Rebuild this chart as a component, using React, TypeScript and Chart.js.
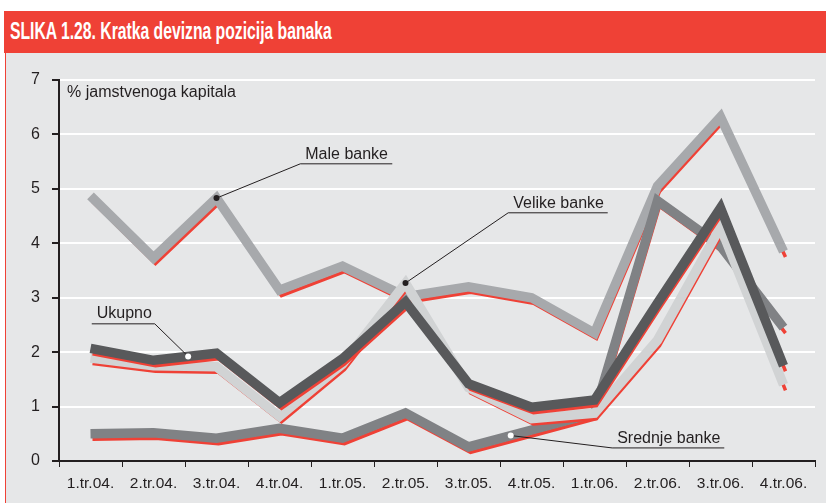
import { useEffect, useRef } from 'react';
import { Chart, registerables } from 'chart.js';

Chart.register(...registerables);

const categories = ['1.tr.04.', '2.tr.04.', '3.tr.04.', '4.tr.04.', '1.tr.05.', '2.tr.05.', '3.tr.05.', '4.tr.05.', '1.tr.06.', '2.tr.06.', '3.tr.06.', '4.tr.06.'];
const maleBanke = [4.87, 3.73, 4.83, 3.14, 3.58, 3.02, 3.2, 3.0, 2.35, 5.05, 6.32, 3.85];
const srednjeBanke = [0.5, 0.52, 0.42, 0.6, 0.42, 0.88, 0.26, 0.57, 0.88, 4.78, 3.95, 2.45];
const velikeBanke = [1.89, 1.75, 1.73, 0.82, 1.78, 3.27, 1.35, 0.78, 0.88, 2.22, 4.3, 1.4];
const ukupno = [2.07, 1.85, 1.98, 1.07, 1.88, 2.92, 1.42, 0.99, 1.12, 2.9, 4.65, 1.75];
const yMin = 0;
const yMax = 7;

const RED = '#ef4136';
const INK = '#231f20';

const callouts = [
  { text: 'Male banke', dataset: 'Male banke', at: 2, ux0: 3.33, ux1: 4.79, uy: 5.46, from: 'left', dot: INK, base: 5 },
  { text: 'Velike banke', dataset: 'Velike banke', at: 5, ux0: 6.63, ux1: 8.21, uy: 4.56, from: 'left', dot: INK, base: 5 },
  { text: 'Ukupno', dataset: 'Ukupno', at: 1.55, ux0: 0.02, ux1: 1.02, uy: 2.52, from: 'right', dot: '#ffffff', base: 6 },
  { text: 'Srednje banke', dataset: 'Srednje banke', at: 6.67, ux0: 8.28, ux1: 10.06, uy: 0.24, from: 'left', dot: '#ffffff', base: 5 },
];

const shadowPlugin = {
  id: 'redShadow',
  beforeDatasetDraw(chart: any, args: any) {
    const ds = chart.data.datasets[args.index];
    if (ds.isShadow) {
      chart.ctx.save();
      chart.ctx.translate(2, 5.5);
    }
  },
  afterDatasetDraw(chart: any, args: any) {
    const ds = chart.data.datasets[args.index];
    if (ds.isShadow) chart.ctx.restore();
  },
};

const calloutPlugin = {
  id: 'callouts',
  afterDatasetsDraw(chart: any) {
    const ctx = chart.ctx;
    const xs = chart.scales.x;
    const ys = chart.scales.y;
    const area = chart.chartArea;
    ctx.save();
    ctx.fillStyle = INK;
    ctx.font = '16px "Liberation Sans", Arial, sans-serif';
    ctx.textBaseline = 'middle';
    ctx.textAlign = 'left';
    ctx.fillText('% jamstvenoga kapitala', area.left + 8, area.top + 13);

    callouts.forEach((c) => {
      const dsIndex = chart.data.datasets.findIndex((d: any) => d.label === c.dataset && !d.isShadow);
      const pts = chart.getDatasetMeta(dsIndex).data;
      const k = Math.floor(c.at);
      const f = c.at - k;
      const p0 = pts[k];
      const p1 = pts[Math.min(k + 1, pts.length - 1)];
      const dx = p0.x + (p1.x - p0.x) * f;
      const dy = p0.y + (p1.y - p0.y) * f;
      const x0 = xs.getPixelForValue(c.ux0);
      const x1 = xs.getPixelForValue(c.ux1);
      const uy = ys.getPixelForValue(c.uy);
      ctx.strokeStyle = INK;
      ctx.lineWidth = 1;
      ctx.beginPath();
      ctx.moveTo(x0, uy);
      ctx.lineTo(x1, uy);
      const lx = c.from === 'left' ? x0 : x1;
      ctx.moveTo(lx, uy);
      ctx.lineTo(dx, dy);
      ctx.stroke();
      ctx.fillStyle = INK;
      ctx.font = '16px "Liberation Sans", Arial, sans-serif';
      ctx.textBaseline = 'alphabetic';
      ctx.fillText(c.text, x0 + 5, uy - c.base);
      ctx.beginPath();
      ctx.arc(dx, dy, 3, 0, Math.PI * 2);
      ctx.fillStyle = c.dot;
      ctx.fill();
    });
    ctx.restore();
  },
};

function line(label: string, data: number[], color: string, order: number, shadow: boolean) {
  return {
    label,
    data,
    isShadow: shadow,
    borderColor: shadow ? RED : color,
    borderWidth: shadow ? 3.5 : 9.5,
    borderCapStyle: 'butt',
    borderJoinStyle: 'miter',
    pointRadius: 0,
    pointHoverRadius: 0,
    fill: false,
    tension: 0,
    order,
  };
}

export default function App() {
  const ref = useRef<HTMLCanvasElement | null>(null);

  useEffect(() => {
    if (!ref.current) return;
    const chart = new Chart(ref.current, {
      type: 'line',
      data: {
        labels: categories,
        datasets: [
          line('Ukupno', ukupno, '#58595b', 0, false),
          line('Ukupno', ukupno, '#58595b', 1, true),
          line('Velike banke', velikeBanke, '#d1d3d4', 2, false),
          line('Velike banke', velikeBanke, '#d1d3d4', 3, true),
          line('Srednje banke', srednjeBanke, '#808285', 4, false),
          line('Srednje banke', srednjeBanke, '#808285', 5, true),
          line('Male banke', maleBanke, '#a7a9ac', 6, false),
          line('Male banke', maleBanke, '#a7a9ac', 7, true),
        ] as any,
      },
      options: {
        animation: false,
        responsive: false,
        events: [],
        layout: { padding: { top: 27, right: 11, left: 0, bottom: 0 } },
        plugins: {
          legend: { display: false },
          tooltip: { enabled: false },
          title: { display: false },
        },
        scales: {
          x: {
            type: 'category',
            offset: true,
            grid: {
              offset: true,
              drawOnChartArea: false,
              drawTicks: true,
              tickLength: 6,
              color: INK,
              lineWidth: 1,
            },
            border: { display: true, color: INK, width: 2 },
            ticks: {
              color: INK,
              font: { family: '"Liberation Sans", Arial, sans-serif', size: 15.5 },
              padding: 7,
              maxRotation: 0,
              autoSkip: false,
            },
            afterFit(scale: any) {
              scale.height = 42;
            },
          },
          y: {
            min: yMin,
            max: yMax,
            ticks: {
              stepSize: 1,
              color: INK,
              font: { family: '"Liberation Sans", Arial, sans-serif', size: 16 },
              padding: 12,
            },
            grid: {
              color: (c: any) => (c.tick && c.tick.value === 0 ? 'rgba(0,0,0,0)' : '#ffffff'),
              lineWidth: 2,
              drawTicks: true,
              tickLength: 7,
              tickColor: INK,
            },
            border: { display: true, color: INK, width: 2 },
            afterFit(scale: any) {
              scale.width = 52;
            },
          },
        },
      } as any,
      plugins: [shadowPlugin, calloutPlugin],
    });
    return () => chart.destroy();
  }, []);

  return (
    <div style={{ position: 'fixed', left: 0, top: 0, width: 826, height: 503, background: '#ffffff', overflow: 'hidden' }}>
      <div
        style={{
          position: 'absolute',
          left: 4,
          top: 11,
          width: 822,
          height: 42,
          background: RED,
          color: '#ffffff',
          fontFamily: '"Liberation Sans", Arial, sans-serif',
          fontWeight: 'bold',
          fontSize: 24,
          lineHeight: '39px',
          paddingLeft: 6,
          boxSizing: 'border-box',
          whiteSpace: 'nowrap',
        }}
      >
        <span style={{ display: 'inline-block', transform: 'scaleX(0.655)', transformOrigin: 'left center' }}>
          SLIKA 1.28. Kratka devizna pozicija banaka
        </span>
      </div>
      <div
        style={{
          position: 'absolute',
          left: 5,
          top: 53,
          width: 821,
          height: 450,
          background: '#e6e7e8',
          borderLeft: `1.5px solid ${RED}`,
          boxSizing: 'border-box',
        }}
      />
      <canvas ref={ref} width={819} height={450} style={{ position: 'absolute', left: 7, top: 53 }} />
    </div>
  );
}
